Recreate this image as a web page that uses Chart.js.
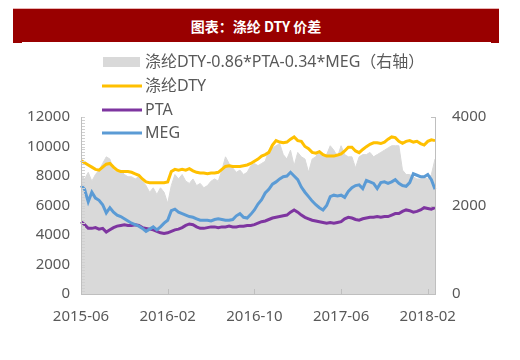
<!DOCTYPE html>
<html>
<head>
<meta charset="utf-8">
<script src="https://cdn.jsdelivr.net/npm/chart.js@4.4.1/dist/chart.umd.min.js"></script>
<style>
  body { margin: 0; background: #fff; }
  #wrap { position: relative; width: 520px; height: 360px; overflow: hidden; }
  canvas { position: absolute; left: 0; top: 0; }
  #head {
    position: absolute; left: 13px; top: 8px; width: 486px; height: 34px;
    background: #990000; border-top: 1px solid #e8b4b4;
    color: #fff; font: bold 14px "Noto Sans CJK SC", sans-serif;
    text-align: center; line-height: 34px;
  }
  #head:after { content: ''; position: absolute; left: 9px; right: 8px; bottom: 0; height: 1px; background: #fff; }
</style>
</head>
<body>
<div id="wrap">
  <canvas id="c" width="520" height="360"></canvas>
  <div id="head">图表：涤纶 DTY 价差</div>
</div>
<script>
// x categories: 3 points a month, 2015-06 .. 2018-02
const months = ['2015-06','2015-07','2015-08','2015-09','2015-10','2015-11','2015-12',
  '2016-01','2016-02','2016-03','2016-04','2016-05','2016-06','2016-07','2016-08','2016-09','2016-10','2016-11','2016-12',
  '2017-01','2017-02','2017-03','2017-04','2017-05','2017-06','2017-07','2017-08','2017-09','2017-10','2017-11','2017-12',
  '2018-01','2018-02'];
const days = ['01', '11', '21'];
const tickLabels = ['2015-06', '2016-02', '2016-10', '2017-06', '2018-02'];

const dty = [9050,8900,8750,8600,8450,8400,8600,8800,8850,8600,
  8400,8300,8300,8300,8250,8150,8050,7800,7600,7550,
  7550,7550,7550,7550,7600,8300,8450,8400,8450,8400,
  8500,8350,8250,8200,8200,8150,8200,8200,8250,8450,
  8650,8700,8650,8650,8650,8700,8750,8850,9000,9150,
  9350,9450,9600,10100,10400,10300,10250,10300,10500,10650,
  10400,10350,10000,9850,9600,9550,9650,9450,9350,9350,
  9350,9420,9500,9700,9950,9950,9700,9580,9800,9990,
  10150,10250,10250,10200,10300,10500,10650,10600,10350,10220,
  10350,10400,10300,10350,10200,10100,10350,10450,10400];

const pta = [4900,4700,4450,4450,4500,4400,4450,4200,4350,4500,
  4600,4650,4700,4650,4650,4700,4650,4500,4450,4400,
  4350,4250,4150,4100,4150,4250,4350,4400,4500,4650,
  4750,4700,4550,4450,4450,4500,4550,4550,4500,4550,
  4550,4600,4550,4550,4600,4600,4650,4650,4700,4800,
  4900,4950,5050,5150,5200,5250,5300,5350,5550,5700,
  5550,5350,5200,5100,5000,4950,4900,4850,4800,4850,
  4800,4850,4900,5100,5200,5150,5050,5000,5100,5150,
  5200,5200,5250,5200,5250,5250,5350,5450,5450,5600,
  5700,5650,5550,5600,5700,5850,5800,5750,5850];

const meg = [7350,7100,6250,6900,6500,6350,6050,5500,5850,5550,
  5350,5250,5100,4950,4800,4700,4600,4450,4250,4400,
  4550,4350,4550,4800,5000,5650,5750,5550,5450,5350,
  5250,5200,5100,5000,5000,5000,4950,5050,5100,5050,
  5000,5000,5050,5300,5450,5200,5150,5400,5700,6100,
  6400,6850,7100,7450,7600,7800,7950,8000,8250,8000,
  7750,7250,6900,6600,6300,6050,5850,5700,6000,6600,
  6700,6650,6700,6550,6950,7200,7350,7400,7150,7700,
  7600,7500,7150,7550,7600,7500,7600,7750,7500,7350,
  7300,7550,8150,8050,7950,7950,8100,7750,7100];

// 价差 (right axis)
const spread = [2700,2600,2750,2550,2700,2800,2950,3100,3050,2800,
  2750,2800,2700,2650,2650,2600,2650,2550,2450,2300,
  2400,2250,2400,2300,2050,2450,2700,2600,2700,2550,
  2500,2600,2450,2500,2400,2450,2550,2600,2550,2800,
  3100,2950,2850,2750,2800,2700,2750,2900,2950,2900,
  2950,3000,3250,3300,3350,3400,3150,3050,3250,2900,
  3200,3100,3050,2750,3050,3100,3250,3100,3150,3350,
  3250,3100,3350,3150,3100,3100,2850,3100,3150,3150,
  3200,3100,3150,3200,3250,3300,3350,3350,3350,2800,
  2700,2700,2650,2600,2600,2650,2600,2700,3050];

const labels = months.flatMap(m => days.map(d => m + '-' + d));

const FONT = '"Noto Sans", "Noto Sans CJK SC", sans-serif';
const TXT = '#595959';
const AXIS = '#BFBFBF';

// axis lines, inside ticks, legend on top of plot
const overlay = {
  id: 'overlay',
  afterDatasetsDraw(chart) {
    const { ctx, chartArea: a, scales } = chart;
    ctx.save();
    ctx.lineWidth = 1;
    ctx.strokeStyle = '#D0D0D0';
    ctx.beginPath();
    for (let v = 0; v <= 12000; v += 200) {
      const py = Math.round(scales.y.getPixelForValue(v)) + 0.5;
      ctx.moveTo(a.left, py);
      ctx.lineTo(a.left + 4, py);
    }
    ctx.stroke();

    ctx.strokeStyle = AXIS;
    ctx.beginPath();
    ctx.moveTo(a.left + 0.5, a.top); ctx.lineTo(a.left + 0.5, a.bottom);
    ctx.moveTo(a.right + 0.5, a.top); ctx.lineTo(a.right + 0.5, a.bottom);
    ctx.moveTo(a.left, a.bottom + 0.5); ctx.lineTo(a.right + 1, a.bottom + 0.5);
    scales.x.ticks.forEach((t, i) => {
      const px = Math.round(scales.x.getPixelForTick(i)) + 0.5;
      ctx.moveTo(px, a.bottom); ctx.lineTo(px, a.bottom - 5);
    });
    scales.y1.ticks.forEach((t, i) => {
      const py = Math.round(scales.y1.getPixelForTick(i)) + 0.5;
      ctx.moveTo(a.right - 4, py); ctx.lineTo(a.right, py);
    });
    ctx.stroke();
    ctx.restore();
  },
  afterDraw(chart) {
    const ctx = chart.ctx;
    const rowsY = [62, 86, 110, 133];
    ctx.save();
    ctx.font = '16px ' + FONT;
    ctx.textBaseline = 'middle';
    chart.data.datasets.forEach((ds, i) => {
      const cy = rowsY[i];
      if (ds.fill) {
        ctx.fillStyle = ds.backgroundColor;
        ctx.fillRect(103, cy - 5, 37, 10);
      } else {
        ctx.strokeStyle = ds.borderColor;
        ctx.lineWidth = 3;
        ctx.beginPath();
        ctx.moveTo(102, cy);
        ctx.lineTo(142, cy);
        ctx.stroke();
      }
      ctx.fillStyle = TXT;
      ctx.fillText(ds.label, 145, cy);
    });
    ctx.restore();
  }
};

new Chart(document.getElementById('c'), {
  type: 'line',
  data: {
    labels,
    datasets: [
      { label: '涤纶DTY-0.86*PTA-0.34*MEG（右轴）', data: spread, yAxisID: 'y1', fill: 'origin',
        backgroundColor: '#D9D9D9', borderColor: '#D9D9D9', borderWidth: 1, pointRadius: 0, order: 4 },
      { label: '涤纶DTY', data: dty, yAxisID: 'y', fill: false, borderColor: '#FFC000', borderWidth: 3, pointRadius: 0, order: 3 },
      { label: 'PTA', data: pta, yAxisID: 'y', fill: false, borderColor: '#7E35A0', borderWidth: 3, pointRadius: 0, order: 2 },
      { label: 'MEG', data: meg, yAxisID: 'y', fill: false, borderColor: '#5B9BD5', borderWidth: 3, pointRadius: 0, order: 1 }
    ]
  },
  options: {
    responsive: false,
    animation: false,
    events: [],
    layout: { padding: { top: 117, left: 0, right: 0, bottom: 0 } },
    plugins: { legend: { display: false }, tooltip: { enabled: false } },
    scales: {
      x: {
        type: 'category',
        offset: false,
        grid: { display: false, drawTicks: false },
        border: { display: false },
        afterBuildTicks: (axis) => {
          axis.ticks = axis.ticks.filter(t => tickLabels.includes(labels[t.value].slice(0, 7)) && labels[t.value].endsWith('-01'));
        },
        afterFit: (s) => { s.height = 66; },
        ticks: {
          autoSkip: false, maxRotation: 0, padding: 14, color: TXT, font: { family: FONT, size: 15 },
          callback: function (v) { return this.getLabelForValue(v).slice(0, 7); }
        }
      },
      y: {
        position: 'left', min: 0, max: 12000,
        grid: { display: false, drawTicks: false },
        border: { display: false },
        afterFit: (s) => { s.width = 81; },
        ticks: { stepSize: 2000, padding: 11, color: TXT, font: { family: FONT, size: 15 }, callback: v => String(v) }
      },
      y1: {
        position: 'right', min: 0, max: 4000,
        grid: { display: false, drawTicks: false },
        border: { display: false },
        afterFit: (s) => { s.width = 85; },
        ticks: { stepSize: 2000, padding: 17, color: TXT, font: { family: FONT, size: 15 }, callback: v => String(v) }
      }
    }
  },
  plugins: [overlay]
});
</script>
</body>
</html>
